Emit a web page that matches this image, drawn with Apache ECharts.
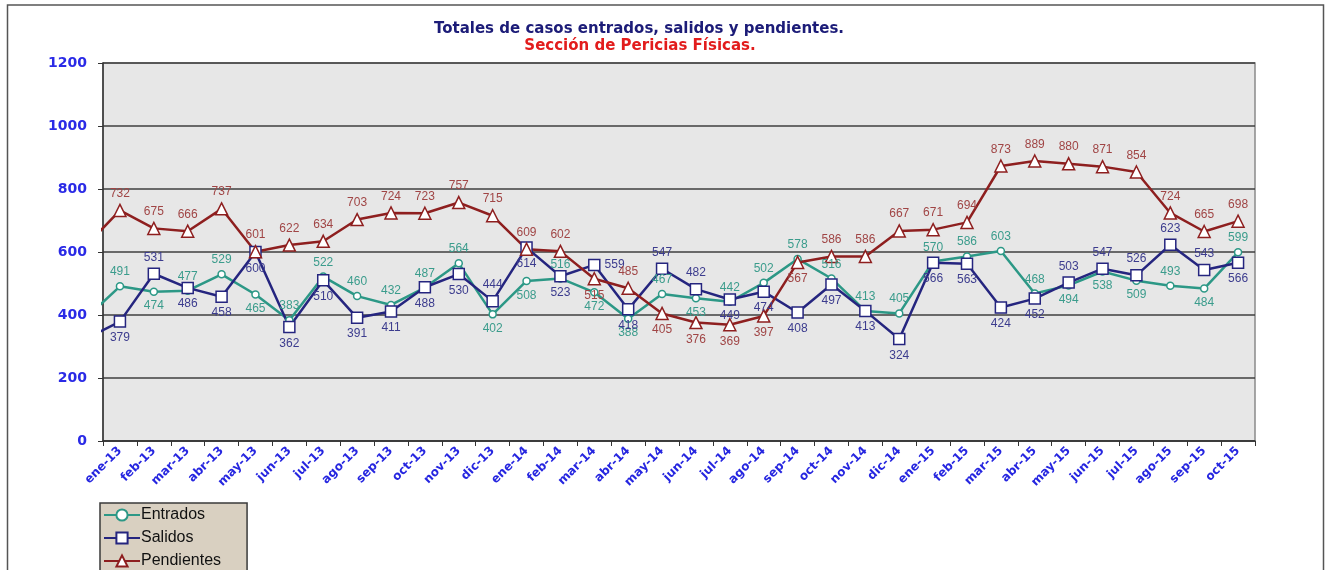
<!DOCTYPE html>
<html>
<head>
<meta charset="utf-8">
<script src="https://cdn.jsdelivr.net/npm/echarts@6/dist/echarts.min.js"></script>
<style>
html,body{margin:0;padding:0;background:#fff;}
#chart{width:1330px;height:570px;}
</style>
</head>
<body>
<div id="chart"></div>
<script>
// ---- data ----
const categories = ['ene-13','feb-13','mar-13','abr-13','may-13','jun-13','jul-13','ago-13','sep-13','oct-13','nov-13','dic-13',
  'ene-14','feb-14','mar-14','abr-14','may-14','jun-14','jul-14','ago-14','sep-14','oct-14','nov-14','dic-14',
  'ene-15','feb-15','mar-15','abr-15','may-15','jun-15','jul-15','ago-15','sep-15','oct-15'];
const entrados = [491,474,477,529,465,383,522,460,432,487,564,402,508,516,472,388,467,453,442,502,578,516,413,405,570,586,603,468,494,538,509,493,484,599];
const salidos = [379,531,486,458,600,362,510,391,411,488,530,444,614,523,559,418,547,482,449,474,408,497,413,324,566,563,424,452,503,547,526,623,543,566];
const pendientes = [732,675,666,737,601,622,634,703,724,723,757,715,609,602,515,485,405,376,369,397,567,586,586,667,671,694,873,889,880,871,854,724,665,698];
// month before the first category (only its segment reaches into the plot)
const entradosPrev = 391;
const salidosPrev = 325;
const pendientesPrev = 620;
const yTicks = [0,200,400,600,800,1000,1200];

// ---- label placement (style) ----
const T='top', B='bottom', R='right';
const posE = [T,B,T,T,B,T,T,T,T,T,T,B, B,T,B,B,T,B,T,T,T,T,T,T, T,T,T,T,B,B,B,T,B,T];
const posS = [B,T,B,B,B,B,B,B,B,B,B,T, B,B,R,B,T,T,B,B,B,B,B,B, B,B,B,B,T,T,T,T,T,B];
const posP = [T,T,T,T,T,T,T,T,T,T,T,T, T,T,B,T,B,B,B,B,B,T,T,T, T,T,T,T,T,T,T,T,T,T];

function build(prev, vals, pos){
  const d = [{value:[-1, prev], symbol:'none', label:{show:false}}];
  vals.forEach((v,i)=>d.push({value:[i, v], label:{position:pos[i]}}));
  return d;
}

const colE = '#2c9886', colS = '#25257f', colP = '#8e1f1f';
const lblE = '#3b9c8c', lblS = '#3c3c8e', lblP = '#a04545';

function series(name, data, color, lbl, symbol, size){
  return {
    name, type:'line', xAxisIndex:1, data, clip:true,
    symbol, symbolSize:size, showAllSymbol:true,
    lineStyle:{color, width:2.5},
    itemStyle:{color:'#ffffff', borderColor:color, borderWidth:1.5},
    label:{show:true, formatter:p=>p.value[1], color:lbl, fontFamily:'Liberation Sans, Arial', fontSize:12, distance:4},
    emphasis:{disabled:true}
  };
}

const chart = echarts.init(document.getElementById('chart'), null, {renderer:'canvas'});
chart.setOption({
  animation:false,
  backgroundColor:'#ffffff',
  grid:{left:103, right:75, top:63, bottom:129, show:true, backgroundColor:'#e7e7e7', borderColor:'#8a8a8a', borderWidth:1.5},
  xAxis:[
    {type:'category', data:categories, boundaryGap:true,
     axisLine:{lineStyle:{color:'#333', width:1.5}},
     axisTick:{show:true, length:5, lineStyle:{color:'#333'}},
     axisLabel:{interval:0, rotate:45, color:'#2626e0', fontWeight:'bold', fontFamily:'DejaVu Sans', fontSize:12, margin:8},
     splitLine:{show:false}},
    {type:'value', min:-0.5, max:33.5, show:false, splitLine:{show:false}}
  ],
  yAxis:{type:'value', min:yTicks[0], max:yTicks[yTicks.length-1], interval:yTicks[1]-yTicks[0],
    axisLine:{show:true, onZero:false, lineStyle:{color:'#333', width:1.5}},
    axisTick:{show:true, length:5, lineStyle:{color:'#333'}},
    axisLabel:{color:'#2a2ae6', fontWeight:'bold', fontFamily:'DejaVu Sans', fontSize:14, margin:16, formatter:v=>String(v)},
    splitLine:{show:true, lineStyle:{color:'#3f3f3f', width:1.5}}},
  legend:{
    orient:'vertical', left:100, top:503, height:120,
    backgroundColor:'#d9d0c1', borderColor:'#3a3a3a', borderWidth:1.5,
    padding:[4,26,14,3], itemGap:7, itemWidth:36, itemHeight:14,
    textStyle:{fontFamily:'Liberation Sans, Arial', fontSize:16, color:'#111', padding:[0,0,0,-4]},
    data:['Entrados','Salidos','Pendientes']
  },
  graphic:[
    {type:'rect', silent:true, shape:{x:7.5, y:5, width:1316, height:600}, style:{fill:null, stroke:'#555', lineWidth:1.5}},
    {type:'text', silent:true,
     style:{text:'Totales de casos entrados, salidos y pendientes.', x:639, y:29, textAlign:'center', textVerticalAlign:'middle',
            font:'bold 15px "DejaVu Sans"', fill:'#1c1c78'}},
    {type:'text', silent:true,
     style:{text:'Sección de Pericias Físicas.', x:640, y:46, textAlign:'center', textVerticalAlign:'middle',
            font:'bold 15px "DejaVu Sans"', fill:'#e21c1c'}}
  ],
  series:[
    series('Entrados', build(entradosPrev, entrados, posE), colE, lblE, 'circle', 7),
    series('Salidos', build(salidosPrev, salidos, posS), colS, lblS, 'rect', 11),
    series('Pendientes', build(pendientesPrev, pendientes, posP), colP, lblP, 'triangle', 12)
  ]
});
</script>
</body>
</html>
